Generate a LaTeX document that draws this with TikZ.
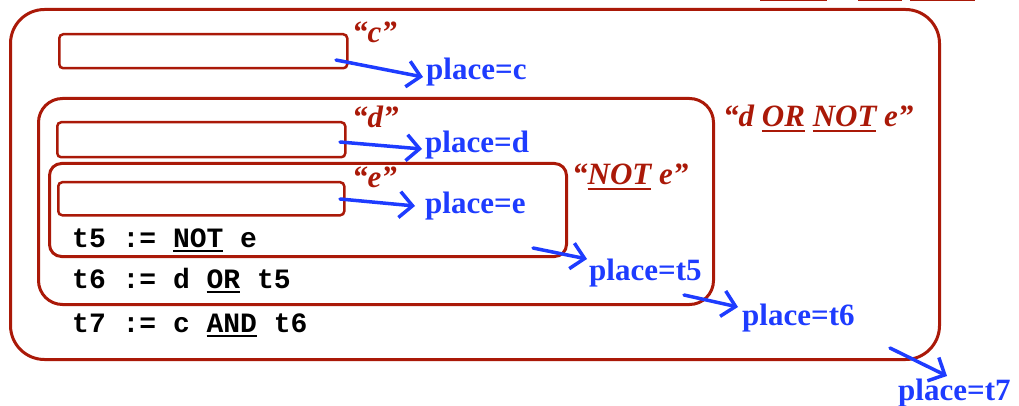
\documentclass[tikz,border=0pt]{standalone}
\usepackage{fontspec}
\setmainfont{Liberation Serif}
\setmonofont{Liberation Mono}
\usetikzlibrary{arrows.meta}
\definecolor{boxred}{RGB}{170,25,8}
\definecolor{placeblue}{RGB}{30,60,255}
% underlined word with a thick rule in the current colour
\newcommand\ulword[1]{\setbox0=\hbox{#1}\rlap{\rule[-5pt]{\wd0}{2pt}}\box0\relax}
\begin{document}
\begin{tikzpicture}[x=1pt,y=-1pt,
  field/.style={draw=boxred, line width=2.5pt, rounded corners=4pt, inner sep=0, anchor=north west},
  scopebox/.style={draw=boxred, line width=3pt, inner sep=0, anchor=north west},
  placelbl/.style={text=placeblue, font=\fontsize{31}{31}\selectfont\bfseries, anchor=base west, inner sep=0},
  exprlbl/.style={text=boxred, font=\fontsize{31}{31}\selectfont\bfseries\itshape, anchor=base west, inner sep=0},
  codeline/.style={font=\fontsize{28}{28}\selectfont\ttfamily\bfseries, anchor=base west, inner sep=0},
  flow/.style={draw=placeblue, line width=3.5pt, line cap=round,
    -{Straight Barb[length=13pt,width=26pt]}}]
\useasboundingbox (0,0) rectangle (1019,406);

% nested scopes
\node[scopebox, rounded corners=34pt, minimum width=929pt, minimum height=350pt] (outer) at (9,8) {};
\node[scopebox, rounded corners=24pt, minimum width=675pt, minimum height=206pt] (dscope) at (37,97) {};
\node[scopebox, rounded corners=12pt, minimum width=517pt, minimum height=93pt] (escope) at (48,162) {};

% input fields
\node[field, minimum width=288pt, minimum height=34pt] (fc) at (58,33) {};
\node[field, minimum width=288pt, minimum height=35pt] (fd) at (56,121) {};
\node[field, minimum width=286pt, minimum height=33pt] (fe) at (57,181) {};

% expression labels
\node[exprlbl] (lc) at (352,43) {“c”};
\node[exprlbl] (ld) at (352,128) {“d”};
\node[exprlbl] (le) at (352,188) {“e”};
\node[exprlbl] (lne) at (572,185) {“\ulword{NOT} e”};
\node[exprlbl] (ldne) at (723,127) {“d \ulword{OR} \ulword{NOT} e”};

% generated code
\node[codeline] (t5) at (72,247) {t5 := \ulword{NOT} e};
\node[codeline] (t6) at (72,288) {t6 := d \ulword{OR} t5};
\node[codeline] (t7) at (72,332) {t7 := c \ulword{AND} t6};

% places
\node[placelbl] (pc) at (426,80) {place=c};
\node[placelbl] (pd) at (425,153) {place=d};
\node[placelbl] (pe) at (425,213) {place=e};
\node[placelbl] (p5) at (589,280) {place=t5};
\node[placelbl] (p6) at (742,325) {place=t6};
\node[placelbl] (p7) at (898,400) {place=t7};

% arrow ends
\coordinate (sc) at (336,60);  \coordinate (tc) at (423,77);
\coordinate (sd) at (340,142); \coordinate (td) at (422,149);
\coordinate (se) at (340,199); \coordinate (te) at (415,206);
\coordinate (s5) at (533,248); \coordinate (t5e) at (587,259);
\coordinate (s6) at (684,295); \coordinate (t6e) at (738,307);
\coordinate (s7) at (890,348); \coordinate (t7e) at (947,376);

\draw[flow] (sc) -- (tc);
\draw[flow] (sd) -- (td);
\draw[flow] (se) -- (te);
\draw[flow] (s5) -- (t5e);
\draw[flow] (s6) -- (t6e);
\draw[flow] (s7) -- (t7e);

% underlines of text running off the top edge
\draw[boxred, line width=2pt] (760,0.5) -- (827,0.5);
\draw[boxred, line width=2pt] (858,0.5) -- (902,0.5);
\draw[boxred, line width=2pt] (910,0.5) -- (975,0.5);
\end{tikzpicture}
\end{document}
